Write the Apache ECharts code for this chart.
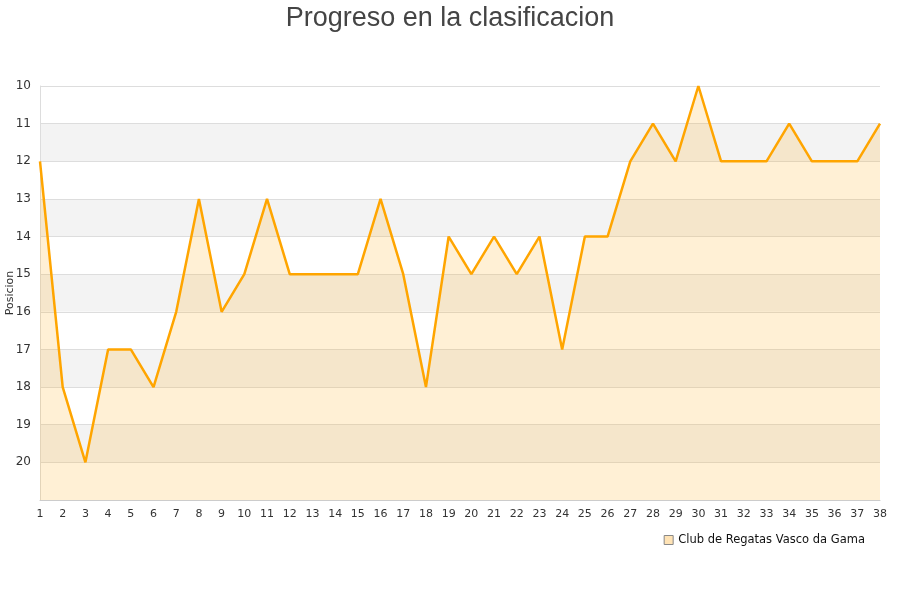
<!DOCTYPE html>
<html>
<head>
<meta charset="utf-8">
<script src="https://cdn.jsdelivr.net/npm/echarts@6/dist/echarts.min.js"></script>
<style>html,body{margin:0;padding:0;background:#fff}#c{width:900px;height:600px}</style>
</head>
<body>
<div id="c"></div>
<script>
var jornadas = ['1','2','3','4','5','6','7','8','9','10','11','12','13','14','15','16','17','18','19','20','21','22','23','24','25','26','27','28','29','30','31','32','33','34','35','36','37','38'];
var posiciones = [12,18,20,17,17,18,16,13,16,15,13,15,15,15,15,13,15,18,14,15,14,15,14,17,14,14,12,11,12,10,12,12,12,11,12,12,12,11];
var equipo = 'Club de Regatas Vasco da Gama';
var titulo = 'Progreso en la clasificacion';

var chart = echarts.init(document.getElementById('c'));
chart.setOption({
  animation: false,
  title: {
    text: titulo, left: 'center', top: 0,
    textStyle: {fontFamily: 'Liberation Sans', fontSize: 27, fontWeight: 'normal', color: '#444'}
  },
  legend: {
    data: [{name: equipo, icon: 'rect'}],
    right: 30, top: 529,
    itemWidth: 9, itemHeight: 9, itemGap: 10,
    textStyle: {fontFamily: 'DejaVu Sans', fontSize: 11.5, color: '#111'},
    itemStyle: {color: '#ffe3b5', borderColor: '#888', borderWidth: 1}
  },
  grid: {left: 40, right: 20, top: 86, bottom: 100, containLabel: false, outerBoundsMode: 'none'},
  xAxis: {
    type: 'category', data: jornadas, boundaryGap: false,
    axisLine: {lineStyle: {color: '#ccc'}},
    axisTick: {show: false},
    axisLabel: {fontFamily: 'DejaVu Sans', fontSize: 11, color: '#333', interval: 0, margin: 9},
    splitLine: {show: false}
  },
  yAxis: {
    type: 'value', inverse: true, min: 10, max: 21, interval: 1,
    name: 'Posicion', nameLocation: 'middle', nameGap: 24, nameMoveOverlap: false,
    nameTextStyle: {fontFamily: 'DejaVu Sans', fontSize: 11, color: '#333'},
    axisLine: {show: true, lineStyle: {color: '#ddd'}},
    axisTick: {show: false},
    axisLabel: {fontFamily: 'DejaVu Sans', fontSize: 12, color: '#333', margin: 9,
      formatter: function (v) { return v === 21 ? '' : v; }},
    splitLine: {show: true, lineStyle: {color: '#ddd', width: 1}},
    splitArea: {show: true, areaStyle: {color: ['#ffffff', '#f3f3f3']}}
  },
  series: [{
    name: equipo, type: 'line', data: posiciones,
    showSymbol: false, symbol: 'none',
    lineStyle: {color: '#ffa500', width: 2.5},
    itemStyle: {color: '#ffa500'},
    areaStyle: {origin: 'end', color: 'rgba(255,175,30,0.27)'}
  }]
});
</script>
</body>
</html>
